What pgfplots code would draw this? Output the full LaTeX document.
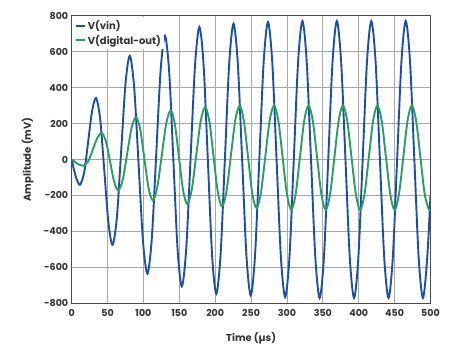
\documentclass[border=0pt]{standalone}
\usepackage{pgfplots}
\pgfplotsset{compat=1.18}
\usepackage{fontspec}
\setmainfont{Poppins}
\definecolor{vblue}{HTML}{1F4F9F}
\definecolor{vgreen}{HTML}{2A9C64}
\definecolor{axgray}{HTML}{4A4A4A}
\definecolor{gridgray}{HTML}{A8A8A8}
\definecolor{txt}{HTML}{333333}
\begin{document}
\begin{tikzpicture}
\begin{axis}[
  scale only axis, width=358.8pt, height=287.6pt,
  xmin=0, xmax=500, ymin=-800, ymax=800,
  xtick={0,50,...,500}, ytick={-800,-600,...,800},
  grid=major,
  major grid style={gridgray, line width=0.9pt},
  axis line style={axgray, line width=1.4pt},
  tick style={draw=none},
  ticklabel style={font=\fontsize{9.5}{11}\selectfont\bfseries, text=txt},
  /pgf/number format/assume math mode=true,
  /pgf/number format/1000 sep={},
  xlabel={Time (µs)}, ylabel={Amplitude (mV)},
  every axis x label/.style={at={([yshift=-35pt]axis description cs:0.5,0)}, anchor=center,
     font=\fontsize{10}{12}\selectfont\bfseries, text=txt},
  every axis y label/.style={at={([xshift=-44pt]axis description cs:0,0.5)}, anchor=center, rotate=90,
     font=\fontsize{10}{12}\selectfont\bfseries, text=txt},
  xticklabel style={yshift=-3pt},
  legend style={at={(0.005,0.995)}, anchor=north west, draw=none, fill=white,
    font=\fontsize{10}{12}\selectfont\bfseries, text=txt, inner sep=1pt,
    row sep=0pt, cells={anchor=west}},
  legend image code/.code={\draw[#1, line width=2.2pt] (0pt,0pt) -- (9pt,0pt);},
]
\addplot[vblue, line width=1.9pt, smooth] coordinates {
(0,0) (3,-54) (6,-99) (9,-129) (12,-140)
(17.5,-69) (23,101) (28.5,271) (34,342)
(39.75,222) (45.5,-66) (51.25,-354) (57,-474)
(63,-320) (69,51) (75,423) (81,577)
(87.1,399) (93.25,-29) (99.4,-457) (105.5,-635)
(111.6,-441) (117.75,26) (123.9,494) (130,688)
(135.9,484) (141.75,-9) (147.6,-502) (153.5,-706)
(159.6,-495) (165.75,15) (171.9,526) (178,737)
(183.9,520) (189.75,-5) (195.6,-530) (201.5,-747)
(207.5,-527) (213.5,4) (219.5,535) (225.5,755)
(231.5,534) (237.5,0) (243.5,-534) (249.5,-756)
(255.5,-533) (261.5,4) (267.5,542) (273.5,765)
(279.5,541) (285.5,0) (291.5,-541) (297.5,-765)
(303.5,-541) (309.5,2) (315.5,544) (321.5,770)
(327.5,544) (333.5,0) (339.5,-544) (345.5,-770)
(351.5,-544) (357.5,0) (363.5,544) (369.5,770)
(375.5,544) (381.5,0) (387.5,-544) (393.5,-770)
(399.5,-544) (405.5,0) (411.5,544) (417.5,770)
(423.5,544) (429.5,0) (435.5,-544) (441.5,-770)
(447.5,-544) (453.5,0) (459.5,544) (465.5,770)
(471.5,544) (477.5,0) (483.5,-544) (489.5,-770)
(495.5,-544) (500,-200)
};
\addlegendentry{V(vin)}
\addplot[vgreen, line width=1.9pt, smooth] coordinates {
(0,0) (4.25,-13) (8.5,-25) (12.75,-32) (17,-35)
(23.25,-8) (29.5,56) (35.75,120) (42,147)
(47.75,100) (53.5,-12) (59.25,-125) (65,-172)
(71.15,-112) (77.3,32) (83.45,176) (89.6,236)
(95.45,168) (101.3,4) (107.15,-159) (113,-227)
(119.25,-154) (125.5,23) (131.75,200) (138,273)
(143.75,197) (149.5,12) (155.25,-172) (161,-248)
(167.25,-169) (173.5,22) (179.75,213) (186,292)
(191.9,211) (197.75,15) (203.6,-180) (209.5,-261)
(215.6,-179) (221.75,19) (227.9,217) (234,299)
(239.9,216) (245.75,14) (251.6,-187) (257.5,-270)
(263.6,-187) (269.75,15) (275.9,217) (282,300)
(288,215) (294,10) (300,-194) (306,-279)
(312,-195) (318,10) (324,215) (330,300)
(336,215) (342,10) (348,-195) (354,-280)
(360,-195) (366,10) (372,215) (378,300)
(384,215) (390,10) (396,-195) (402,-280)
(408,-195) (414,10) (420,215) (426,300)
(432,215) (438,10) (444,-195) (450,-280)
(456,-195) (462,10) (468,215) (474,300)
(480,215) (486,10) (492,-195) (498,-280) (500,-275)
};
\addlegendentry{V(digital-out)}
\end{axis}
\pgfresetboundingbox
\path (-71.7pt,-47.7pt) rectangle (387.3pt,303.3pt);
\end{tikzpicture}
\end{document}
